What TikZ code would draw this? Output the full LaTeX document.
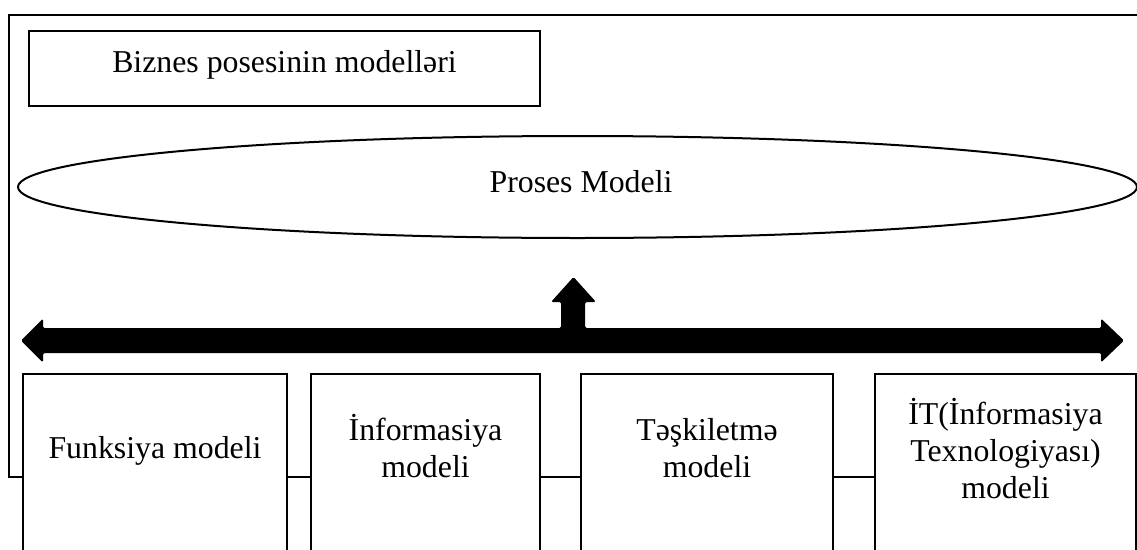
\documentclass[tikz,border=0pt]{standalone}
\usepackage{fontspec}
\setmainfont{Liberation Serif}
\usetikzlibrary{shapes.geometric}
\begin{document}
\begin{tikzpicture}[x=1pt,y=-1pt,
  line width=2pt,
  every node/.style={inner sep=0pt,outer sep=0pt},
  txt/.style={anchor=base,font=\fontsize{31.8}{37}\selectfont},
  frame/.style={draw,line width=2pt},
  modelbox/.style={draw,fill=white,rectangle,minimum height=177pt},
  blockarrow/.style={fill=black,draw=none,rounded corners=1.5pt}]
  \clip (0,0) rectangle (1137,549);
  \useasboundingbox (0,0) rectangle (1137,549);

  % outer frame around the whole model
  \coordinate (fbl) at (9,477);
  \coordinate (ftl) at (9,15);
  \coordinate (ftr) at (1170,15);
  \coordinate (fbr) at (1170,477);
  \draw[frame] (fbl) -- (ftl) -- (ftr) -- (fbr) -- cycle;

  % title box
  \node[draw,rectangle,minimum width=511pt,minimum height=75pt,line width=2.4pt] (title) at (284.5,68.5) {};
  \node[txt] (titletext) at (284.5,72) {Biznes posesinin modelləri};

  % process model ellipse
  \node[draw,ellipse,minimum width=1119pt,minimum height=102pt] (proc) at (577.5,187) {};
  \node[txt] (proctext) at (581,192) {Proses Modeli};

  % the four partial models
  \node[modelbox,minimum width=264pt] (fm)  at (155,462.5) {};
  \node[modelbox,minimum width=229pt] (im)  at (425.5,462.5) {};
  \node[modelbox,minimum width=252pt] (tm)  at (707,462.5) {};
  \node[modelbox,minimum width=261pt] (itm) at (1005.5,462.5) {};

  \node[txt] (fmtext) at (155,458) {Funksiya modeli};
  \node[txt] (imtext) at (425.5,440) {\begin{tabular}[t]{@{}c@{}}İnformasiya\\ modeli\end{tabular}};
  \node[txt] (tmtext) at (707,440) {\begin{tabular}[t]{@{}c@{}}Təşkiletmə\\ modeli\end{tabular}};
  \node[txt] (itmtext) at (1005.5,424) {\begin{tabular}[t]{@{}c@{}}İT(İnformasiya\\ Texnologiyası)\\ modeli\end{tabular}};

  % double-headed block arrow with a branch pointing up to the process model
  \path[blockarrow]
    (21,340.5) -- (43,318.5) -- (43,328) -- (561,328) -- (561,302) -- (551,302)
    -- (573.5,277) -- (596,302) -- (585,302) -- (585,328) -- (1101,328)
    -- (1101,318.5) -- (1124,340.5) -- (1101,362.5) -- (1101,353)
    -- (43,353) -- (43,362.5) -- cycle;
\end{tikzpicture}
\end{document}
